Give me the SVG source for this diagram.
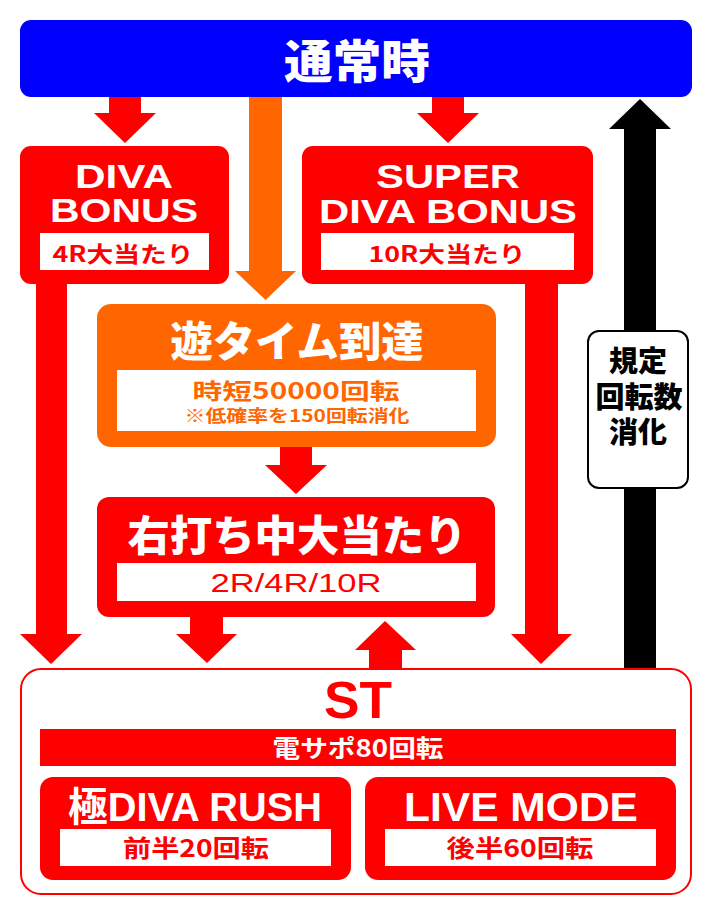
<svg xmlns="http://www.w3.org/2000/svg" width="712" height="916" viewBox="0 0 712 916">
<style>
.lat{font-family:"Liberation Sans","Noto Sans CJK JP",Arial,sans-serif;font-weight:700}
.jp{font-family:"Noto Sans CJK JP","Liberation Sans",sans-serif;font-weight:900}
.jpb{font-family:"Noto Sans CJK JP","Liberation Sans",sans-serif;font-weight:700}
.w{fill:#fff}
.r{fill:#ff0000}
.o{fill:#ff6600}
.k{fill:#000}
</style>
<rect width="712" height="916" fill="#fff"/>
<g id="connectors">
  <polygon class="r" points="109,96 141,96 141,113 156,113 125,143 94,113 109,113"/>
  <polygon class="r" points="432,96 464,96 464,113 479,113 448,143 417,113 432,113"/>
  <polygon class="o" points="249,96 282,96 282,271 296,271 265.5,300 235,271 249,271"/>
  <polygon class="r" points="280,446 312,446 312,465 327,465 296,494 265,465 280,465"/>
  <polygon class="r" points="36,283 67,283 67,634 82,634 51,664 20,634 36,634"/>
  <polygon class="r" points="190,616 223,616 223,634 237,634 207,663 176,634 190,634"/>
  <polygon class="r" points="369,669 402,669 402,650 416,650 385,621 355,650 369,650"/>
  <polygon class="r" points="525,283 558,283 558,634 572,634 541,664 511,634 525,634"/>
  <polygon class="k" points="624,669 656,669 656,129 671,129 640,99 609,129 624,129"/>
</g>
<g id="normal">
  <rect x="20" y="20" width="672" height="77" rx="11" fill="#0000ff"/>
  <text class="jp w" x="357" y="78" font-size="46" text-anchor="middle" textLength="146" lengthAdjust="spacingAndGlyphs">通常時</text>
</g>
<g id="diva-bonus">
  <rect x="20" y="146" width="209" height="138" rx="11" fill="#ff0000"/>
  <text class="lat w" x="124" y="188" font-size="33" text-anchor="middle" textLength="98" lengthAdjust="spacingAndGlyphs">DIVA</text>
  <text class="lat w" x="124" y="222" font-size="33" text-anchor="middle" textLength="148" lengthAdjust="spacingAndGlyphs">BONUS</text>
  <rect x="40" y="233" width="169" height="37" fill="#fff"/>
  <text class="jpb r" x="123" y="262" font-size="22" text-anchor="middle" textLength="141" lengthAdjust="spacingAndGlyphs">4R大当たり</text>
</g>
<g id="super-diva-bonus">
  <rect x="302" y="146" width="291" height="138" rx="11" fill="#ff0000"/>
  <text class="lat w" x="448" y="188" font-size="33" text-anchor="middle" textLength="144" lengthAdjust="spacingAndGlyphs">SUPER</text>
  <text class="lat w" x="448" y="223" font-size="33" text-anchor="middle" textLength="258" lengthAdjust="spacingAndGlyphs">DIVA BONUS</text>
  <rect x="321" y="233" width="253" height="37" fill="#fff"/>
  <text class="jpb r" x="447" y="262" font-size="22" text-anchor="middle" textLength="157" lengthAdjust="spacingAndGlyphs">10R大当たり</text>
</g>
<g id="asobi-time">
  <rect x="97" y="304" width="399" height="143" rx="14" fill="#ff6600"/>
  <text class="jp w" x="297" y="357" font-size="42" text-anchor="middle" textLength="253" lengthAdjust="spacingAndGlyphs">遊タイム到達</text>
  <rect x="117" y="370" width="359" height="61" fill="#fff"/>
  <text class="jpb o" x="296" y="399" font-size="22" text-anchor="middle" textLength="207" lengthAdjust="spacingAndGlyphs">時短50000回転</text>
  <text class="jpb o" x="297" y="422" font-size="17" text-anchor="middle" textLength="225" lengthAdjust="spacingAndGlyphs">※低確率を150回転消化</text>
</g>
<g id="right-hit">
  <rect x="97" y="497" width="398" height="120" rx="12" fill="#ff0000"/>
  <text class="jp w" x="297" y="551" font-size="42" text-anchor="middle" textLength="339" lengthAdjust="spacingAndGlyphs">右打ち中大当たり</text>
  <rect x="117" y="563" width="359" height="38" fill="#fff"/>
  <text class="lat r" x="296" y="592" font-size="25" text-anchor="middle" textLength="171" lengthAdjust="spacingAndGlyphs" style="font-weight:400">2R/4R/10R</text>
</g>
<g id="kitei">
  <rect x="588" y="331" width="100" height="157" rx="11" fill="#fff" stroke="#000" stroke-width="2"/>
  <text class="jp k" x="638" y="372" font-size="29" text-anchor="middle">規定</text>
  <text class="jp k" x="639" y="408" font-size="29" text-anchor="middle">回転数</text>
  <text class="jp k" x="638" y="443" font-size="29" text-anchor="middle">消化</text>
</g>
<g id="st">
  <rect x="21" y="669" width="670" height="225" rx="20" fill="#fff" stroke="#ff0000" stroke-width="2"/>
  <text class="lat r" x="358" y="718" font-size="51" text-anchor="middle" textLength="68" lengthAdjust="spacingAndGlyphs">ST</text>
  <rect x="40" y="729" width="636" height="37" fill="#ff0000"/>
  <text class="jpb w" x="358" y="757" font-size="24" text-anchor="middle" textLength="171" lengthAdjust="spacingAndGlyphs">電サポ80回転</text>
</g>
<g id="kiwami-rush">
  <rect x="40" y="777" width="311" height="103" rx="13" fill="#ff0000"/>
  <text class="lat w" x="195" y="821" font-size="40" text-anchor="middle" textLength="254" lengthAdjust="spacingAndGlyphs">極DIVA RUSH</text>
  <rect x="60" y="829" width="271" height="37" fill="#fff"/>
  <text class="jpb r" x="196" y="857" font-size="24" text-anchor="middle" textLength="146" lengthAdjust="spacingAndGlyphs">前半20回転</text>
</g>
<g id="live-mode">
  <rect x="365" y="777" width="311" height="103" rx="13" fill="#ff0000"/>
  <text class="lat w" x="521" y="821" font-size="40" text-anchor="middle" textLength="234" lengthAdjust="spacingAndGlyphs">LIVE MODE</text>
  <rect x="385" y="829" width="271" height="37" fill="#fff"/>
  <text class="jpb r" x="520" y="857" font-size="24" text-anchor="middle" textLength="147" lengthAdjust="spacingAndGlyphs">後半60回転</text>
</g>
</svg>
